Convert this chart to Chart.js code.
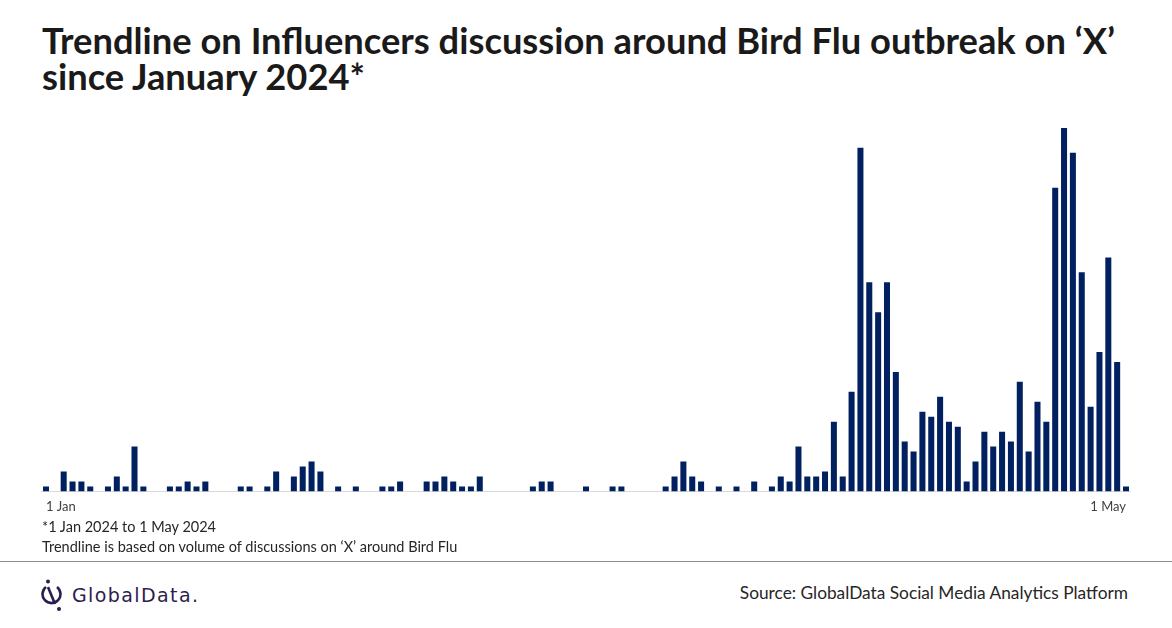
<!DOCTYPE html>
<html>
<head>
<meta charset="utf-8">
<script src="https://cdn.jsdelivr.net/npm/chart.js@4.4.1/dist/chart.umd.min.js"></script>
<style>
  body { margin: 0; background: #fff; font-family: Lato, "Open Sans", sans-serif; }
  #page { position: relative; width: 1172px; height: 628px; overflow: hidden; }
  #title { position: absolute; left: 42px; top: 22px; margin: 0; font-size: 36.3px; line-height: 36px; font-weight: bold; color: #1a1a1a; white-space: nowrap; }
  #chartBox { position: absolute; left: 38px; top: 118px; width: 1096px; height: 405px; }
  .note { position: absolute; left: 42px; font-size: 14.5px; color: #262626; white-space: nowrap; }
  #rule { position: absolute; left: 0; top: 561px; width: 1172px; height: 1px; background: #8c8c8c; }
  #logo { position: absolute; left: 40px; top: 578px; display: flex; align-items: center; }
  #logo span { font-family: "DejaVu Sans", sans-serif; font-size: 19px; letter-spacing: 1.4px; color: #2d1d4e; margin-left: 10px; }
  #source { position: absolute; right: 44px; top: 582px; font-size: 17.3px; color: #262626; white-space: nowrap; }
</style>
</head>
<body>
<div id="page">
  <h1 id="title">Trendline on Influencers discussion around Bird Flu outbreak on ‘X’<br>since January 2024*</h1>
  <div id="chartBox"><canvas id="chart"></canvas></div>
  <div class="note" style="top:518px">*1 Jan 2024 to 1 May 2024</div>
  <div class="note" style="top:538px">Trendline is based on volume of discussions on ‘X’ around Bird Flu</div>
  <div id="rule"></div>
  <div id="logo">
    <svg width="22" height="34" viewBox="0 0 22 34">
      <path d="M6 9 A9 9 0 1 0 17 9" fill="none" stroke="#2d1d4e" stroke-width="2.6"/>
      <line x1="8" y1="9" x2="15" y2="26" stroke="#2d1d4e" stroke-width="2.6"/>
      <circle cx="8" cy="3.5" r="2" fill="#2d1d4e"/>
      <circle cx="19" cy="31" r="2" fill="#2d1d4e"/>
    </svg>
    <span>GlobalData.</span>
  </div>
  <div id="source">Source: GlobalData Social Media Analytics Platform</div>
</div>
<script>
// daily volume of influencer posts, 31 Dec 2023 .. 1 May 2024
const volumes = [
  1, 0, 4, 2, 2, 1, 0, 1, 3, 1, 9, 1, 0, 0, 1, 1, 2, 1, 2, 0,
  0, 0, 1, 1, 0, 1, 4, 0, 3, 5, 6, 4, 0, 1, 0, 1, 0, 0, 1, 1,
  2, 0, 0, 2, 2, 3, 2, 1, 1, 3, 0, 0, 0, 0, 0, 1, 2, 2, 0, 0,
  0, 1, 0, 0, 1, 1, 0, 0, 0, 0, 1, 3, 6, 3, 2, 0, 1, 0, 1, 0,
  2, 0, 1, 3, 2, 9, 3, 3, 4, 14, 3, 20, 69, 42, 36, 42, 24, 10, 8, 16,
  15, 19, 14, 13, 2, 6, 12, 9, 12, 10, 22, 8, 18, 14, 61, 73, 68, 44, 17, 28,
  47, 26, 1
];
const tickLabels = ['1 Jan', '1 May'];
const barColor = '#002060';

const months = ['Jan','Feb','Mar','Apr','May','Jun','Jul','Aug','Sep','Oct','Nov','Dec'];
const days = [];
for (let i = 0; i < volumes.length; i++) {
  const d = new Date(2023, 11, 31 + i);
  days.push(d.getDate() + ' ' + months[d.getMonth()]);
}

new Chart(document.getElementById('chart'), {
  type: 'bar',
  data: {
    labels: days,
    datasets: [{
      data: volumes,
      backgroundColor: barColor,
      categoryPercentage: 1,
      barPercentage: 0.68
    }]
  },
  options: {
    responsive: true,
    maintainAspectRatio: false,
    animation: false,
    layout: { padding: 0 },
    plugins: { legend: { display: false }, tooltip: { enabled: false } },
    scales: {
      x: {
        grid: { display: false, drawTicks: false },
        border: { color: '#d9d9d9', width: 1 },
        ticks: {
          autoSkip: false,
          maxRotation: 0,
          align: 'inner',
          padding: 8,
          color: '#404040',
          font: { family: 'Lato', size: 13 },
          callback: (v, i) => i === 0 ? tickLabels[0] : (i === volumes.length - 1 ? tickLabels[1] : '')
        }
      },
      y: { display: false, min: 0, max: 75 }
    }
  }
});
</script>
</body>
</html>
